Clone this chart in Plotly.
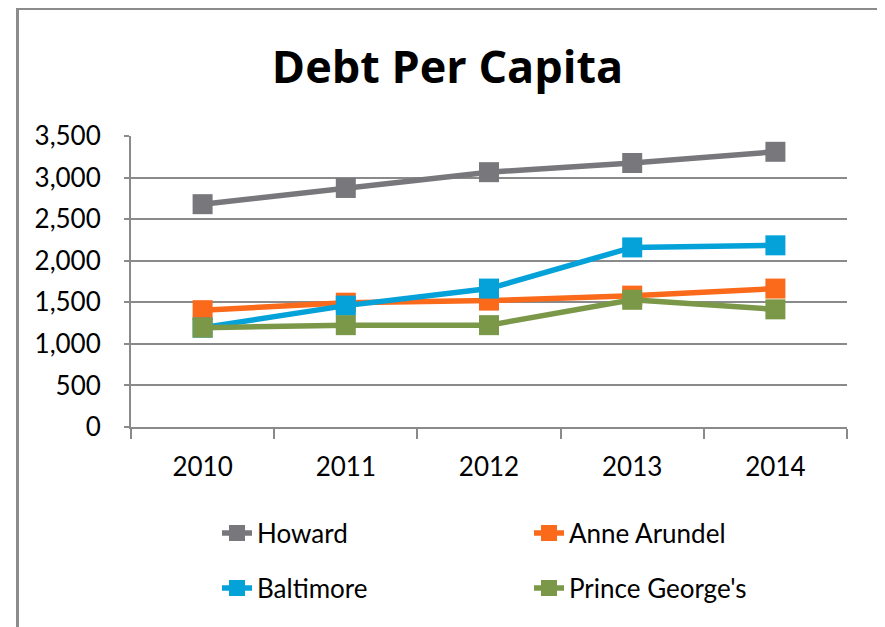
import plotly.graph_objects as go

years = ["2010", "2011", "2012", "2013", "2014"]
howard = [2680, 2875, 3065, 3175, 3310]
anne_arundel = [1405, 1495, 1520, 1580, 1665]
baltimore = [1195, 1460, 1665, 2160, 2185]
prince_georges = [1195, 1225, 1225, 1530, 1415]

series = [
    ("Howard", howard, "#78787c", "legend"),
    ("Anne Arundel", anne_arundel, "#fa6a1a", "legend"),
    ("Baltimore", baltimore, "#05a2da", "legend2"),
    ("Prince George's", prince_georges, "#7a9848", "legend2"),
]

FONT = "Lato, 'Open Sans', sans-serif"
TFONT = "'Open Sans', Lato, sans-serif"
GRID = "#8a8a8a"

fig = go.Figure()
for name, vals, color, lg in series:
    fig.add_trace(go.Scatter(
        x=years, y=vals, name=name, mode="lines+markers",
        line=dict(color=color, width=5.5),
        marker=dict(symbol="square", size=20, color=color, line=dict(width=0)),
        legend=lg,
    ))

OFF = 8  # page body margin
W, H = 885 - OFF, 627 - OFF
L, T = 131 - OFF, 136 - OFF
R = W - (847 - OFF)
B = H - (427 - OFF)
pw, ph = W - L - R, H - T - B

def px_x(x):
    return (x - OFF - L) / pw

def px_y(y):
    return (H - B - (y - OFF)) / ph

leg_common = dict(
    orientation="h", xanchor="left", yanchor="middle",
    entrywidth=267, entrywidthmode="pixels",
    font=dict(family=FONT, size=26, color="#000000"),
    bgcolor="rgba(0,0,0,0)", itemwidth=30,
)

fig.update_layout(
    width=W, height=H,
    margin=dict(l=L, r=R, t=T, b=B),
    paper_bgcolor="white", plot_bgcolor="white",
    title=dict(text="<b>Debt Per Capita</b>", x=(447.5 - OFF) / W, xanchor="center",
               y=1 - (67 - OFF) / H, yanchor="middle", yref="container",
               font=dict(family=TFONT, size=45, color="#000000")),
    legend=dict(x=px_x(217), y=px_y(533), **leg_common),
    legend2=dict(x=px_x(217), y=px_y(588), **leg_common),
    xaxis=dict(
        type="category", range=[-0.5, 4.5], tickson="boundaries",
        ticks="outside", ticklen=10, tickwidth=2, tickcolor=GRID,
        showline=True, linecolor=GRID, linewidth=2,
        showgrid=False, zeroline=False,
        tickfont=dict(family=FONT, size=26, color="#000000"),
        ticklabelstandoff=16,
    ),
    yaxis=dict(
        range=[0, 3500], tickvals=[0, 500, 1000, 1500, 2000, 2500, 3000, 3500],
        ticktext=["0", "500", "1,000", "1,500", "2,000", "2,500", "3,000", "3,500"],
        ticks="outside", ticklen=5, tickwidth=2, tickcolor=GRID,
        showline=True, linecolor=GRID, linewidth=2,
        showgrid=True, gridcolor=GRID, gridwidth=2, zeroline=False,
        tickfont=dict(family=FONT, size=26, color="#000000"),
        ticklabelstandoff=18,
    ),
    shapes=[dict(type="rect", xref="paper", yref="paper",
                 x0=px_x(17.5), x1=px_x(880.5), y0=px_y(660), y1=px_y(8.5),
                 line=dict(color="#8c8c8c", width=3), layer="below")],
)

fig.write_html("out.html")
